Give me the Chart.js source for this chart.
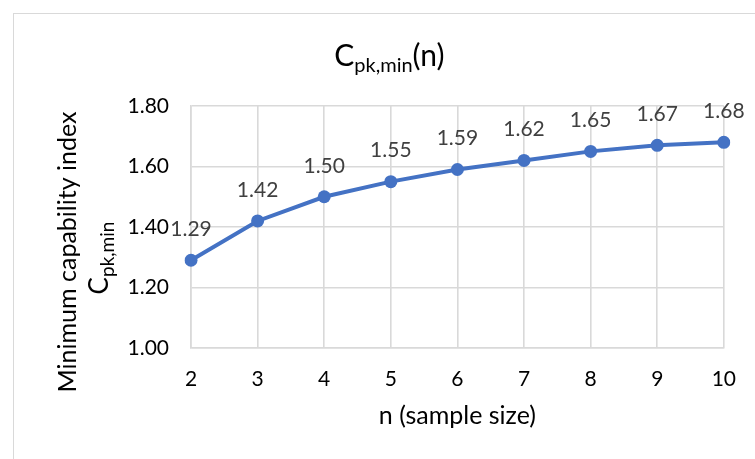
<!DOCTYPE html>
<html><head><meta charset="utf-8">
<script src="https://cdn.jsdelivr.net/npm/chart.js@4/dist/chart.umd.min.js"></script>
<style>
html,body{margin:0;padding:0;background:#fff;}
#wrap{position:relative;width:755px;height:459px;overflow:hidden;}
#frame{position:absolute;left:13px;top:13px;width:760px;height:460px;border-top:1px solid #d9d9d9;border-left:1px solid #d9d9d9;}
canvas{position:absolute;left:0;top:0;}
</style></head>
<body><div id="wrap"><div id="frame"></div><canvas id="c" width="755" height="459"></canvas></div>
<script>
// ---- data ----
const sampleSizes = ['2', '3', '4', '5', '6', '7', '8', '9', '10'];
const cpkMin = [1.29, 1.42, 1.50, 1.55, 1.59, 1.62, 1.65, 1.67, 1.68];
const yTickValues = [1.00, 1.20, 1.40, 1.60, 1.80];
const chartTitleMain = 'C';
const chartTitleSub = 'pk,min';
const chartTitleTail = '(n)';
const yTitleLine1 = 'Minimum capability index';
const yTitleMain = 'C';
const yTitleSub = 'pk,min';
const xTitle = 'n (sample size)';

const FONT = 'Lato, "Open Sans", "DejaVu Sans", sans-serif';
const BLUE = '#4472C4';
const GRID = '#d9d9d9';

function drawSubText(ctx, main, sub, tail, mainSize, subSize, subDrop) {
  ctx.font = mainSize + 'px ' + FONT;
  const wm = ctx.measureText(main).width;
  const wt = tail ? ctx.measureText(tail).width : 0;
  ctx.font = subSize + 'px ' + FONT;
  const ws = ctx.measureText(sub).width;
  const total = wm + ws + wt;
  let x = -total / 2;
  ctx.textAlign = 'left';
  ctx.textBaseline = 'alphabetic';
  ctx.font = mainSize + 'px ' + FONT;
  ctx.fillText(main, x, 0);
  x += wm;
  ctx.font = subSize + 'px ' + FONT;
  ctx.fillText(sub, x, subDrop);
  x += ws;
  if (tail) {
    ctx.font = mainSize + 'px ' + FONT;
    ctx.fillText(tail, x, 0);
  }
}

const textPlugin = {
  id: 'textPlugin',
  afterDraw(chart) {
    const ctx = chart.ctx;
    const area = chart.chartArea;
    ctx.save();
    ctx.fillStyle = '#000';
    // chart title
    ctx.save();
    ctx.translate((area.left + area.right) / 2 - 68, 66);
    drawSubText(ctx, chartTitleMain, chartTitleSub, chartTitleTail, 30, 20, 6);
    ctx.restore();
    // y title line 1
    ctx.save();
    ctx.translate(76, 252);
    ctx.rotate(-Math.PI / 2);
    ctx.font = '25px ' + FONT;
    ctx.textAlign = 'center';
    ctx.textBaseline = 'alphabetic';
    ctx.fillText(yTitleLine1, 0, 0);
    ctx.restore();
    // y title line 2
    ctx.save();
    ctx.translate(108, 258);
    ctx.rotate(-Math.PI / 2);
    drawSubText(ctx, yTitleMain, yTitleSub, '', 26, 19, 6);
    ctx.restore();
    // data labels
    const meta = chart.getDatasetMeta(0);
    ctx.fillStyle = '#404040';
    ctx.font = '21px ' + FONT;
    ctx.textAlign = 'center';
    ctx.textBaseline = 'middle';
    meta.data.forEach((pt, i) => {
      ctx.fillText(cpkMin[i].toFixed(2), pt.x, pt.y - 31);
    });
    ctx.restore();
  }
};

new Chart(document.getElementById('c'), {
  type: 'line',
  data: {
    labels: sampleSizes,
    datasets: [{
      data: cpkMin,
      borderColor: BLUE,
      backgroundColor: BLUE,
      borderWidth: 4,
      pointRadius: 6.5,
      pointBackgroundColor: BLUE,
      pointBorderColor: BLUE,
      pointBorderWidth: 0,
      tension: 0,
      fill: false
    }]
  },
  options: {
    responsive: false,
    animation: false,
    devicePixelRatio: 1,
    layout: { padding: { left: 0, right: 27, top: 106, bottom: 0 } },
    plugins: { legend: { display: false }, title: { display: false }, tooltip: { enabled: false } },
    scales: {
      x: {
        offset: false,
        grid: { color: GRID, lineWidth: 1.6, drawTicks: false },
        border: { color: GRID, width: 1.6 },
        ticks: { color: '#000', font: { family: FONT, size: 21 }, padding: 19, maxRotation: 0, autoSkip: false },
        title: { display: true, text: xTitle, color: '#000', font: { family: FONT, size: 25 }, padding: { top: 0, bottom: 28 } },
        afterFit(scale) { scale.height = 111; }
      },
      y: {
        min: 1.0, max: 1.8,
        grid: { color: GRID, lineWidth: 1.6, drawTicks: false },
        border: { color: GRID, width: 1.6 },
        afterBuildTicks(scale) { scale.ticks = yTickValues.map(v => ({ value: v })); },
        ticks: { color: '#000', font: { family: FONT, size: 21 }, padding: 22, callback: v => Number(v).toFixed(2) },
        afterFit(scale) { scale.width = 191; }
      }
    }
  },
  plugins: [textPlugin]
});
</script>
</body></html>
